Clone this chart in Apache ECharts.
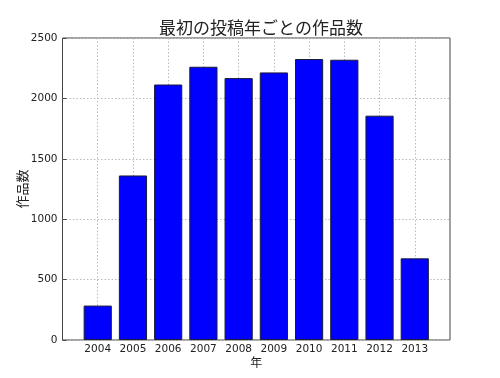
<!DOCTYPE html>
<html>
<head>
<meta charset="utf-8">
<script src="https://cdn.jsdelivr.net/npm/echarts@6/dist/echarts.min.js"></script>
<style>html,body{margin:0;padding:0;background:#fff}#c{width:500px;height:378px}</style>
</head>
<body>
<div id="c"></div>
<script>
var years = ['2004','2005','2006','2007','2008','2009','2010','2011','2012','2013'];
var counts = [285, 1362, 2115, 2262, 2168, 2215, 2326, 2320, 1857, 676];
var yTicks = [0, 500, 1000, 1500, 2000, 2500];
var titleText = '最初の投稿年ごとの作品数';
var xName = '年';
var yName = '作品数';

// pad one empty slot on each side (axis runs from 2003 to 2014)
var axisCats = ['2003'].concat(years, ['2014']);
var axisData = [null].concat(counts, [null]);

var font = "'DejaVu Sans', 'Noto Sans CJK JP', sans-serif";
var chart = echarts.init(document.getElementById('c'), null, {renderer: 'canvas'});
chart.setOption({
  animation: false,
  backgroundColor: '#fff',
  title: {
    text: titleText, left: 256, top: 16, textAlign: 'center',
    textStyle: {fontFamily: font, fontSize: 17, fontWeight: 'normal', color: '#222'}
  },
  grid: {left: 62.5, right: 50, top: 38, bottom: 38, show: true, borderColor: '#444', borderWidth: 1, backgroundColor: 'transparent'},
  xAxis: {
    type: 'category', data: axisCats, boundaryGap: false,
    name: xName, nameLocation: 'middle', nameGap: 18, nameMoveOverlap: false,
    nameTextStyle: {fontFamily: font, fontSize: 12, color: '#222'},
    axisLine: {show: false},
    axisTick: {show: true, inside: true, length: 4, lineStyle: {color: '#444'},
      interval: function (i) { return i > 0 && i < axisCats.length - 1; }},
    axisLabel: {fontFamily: font, fontSize: 10.5, color: '#222', margin: 4,
      interval: 0,
      formatter: function (v, i) { return (i === 0 || i === axisCats.length - 1) ? '' : v; }},
    splitLine: {show: true, interval: function (i) { return i > 0 && i < axisCats.length - 1; },
      lineStyle: {color: '#bbb', type: [1.5, 2], width: 1}}
  },
  yAxis: {
    type: 'value', min: yTicks[0], max: yTicks[yTicks.length - 1], interval: 500,
    name: yName, nameLocation: 'middle', nameGap: 32, nameRotate: 90, nameMoveOverlap: false,
    nameTextStyle: {fontFamily: font, fontSize: 13, color: '#222'},
    axisLine: {show: false},
    axisTick: {show: true, inside: true, length: 4, lineStyle: {color: '#444'}},
    axisLabel: {fontFamily: font, fontSize: 10.5, color: '#222', margin: 5,
      formatter: function (v) { return String(v); }},
    splitLine: {show: true, lineStyle: {color: '#bbb', type: [1.5, 2], width: 1}}
  },
  series: [{
    type: 'bar', data: axisData, barWidth: '80%',
    itemStyle: {color: '#0000ff', borderColor: '#1a1a3a', borderWidth: 1}
  }]
});
</script>
</body>
</html>
